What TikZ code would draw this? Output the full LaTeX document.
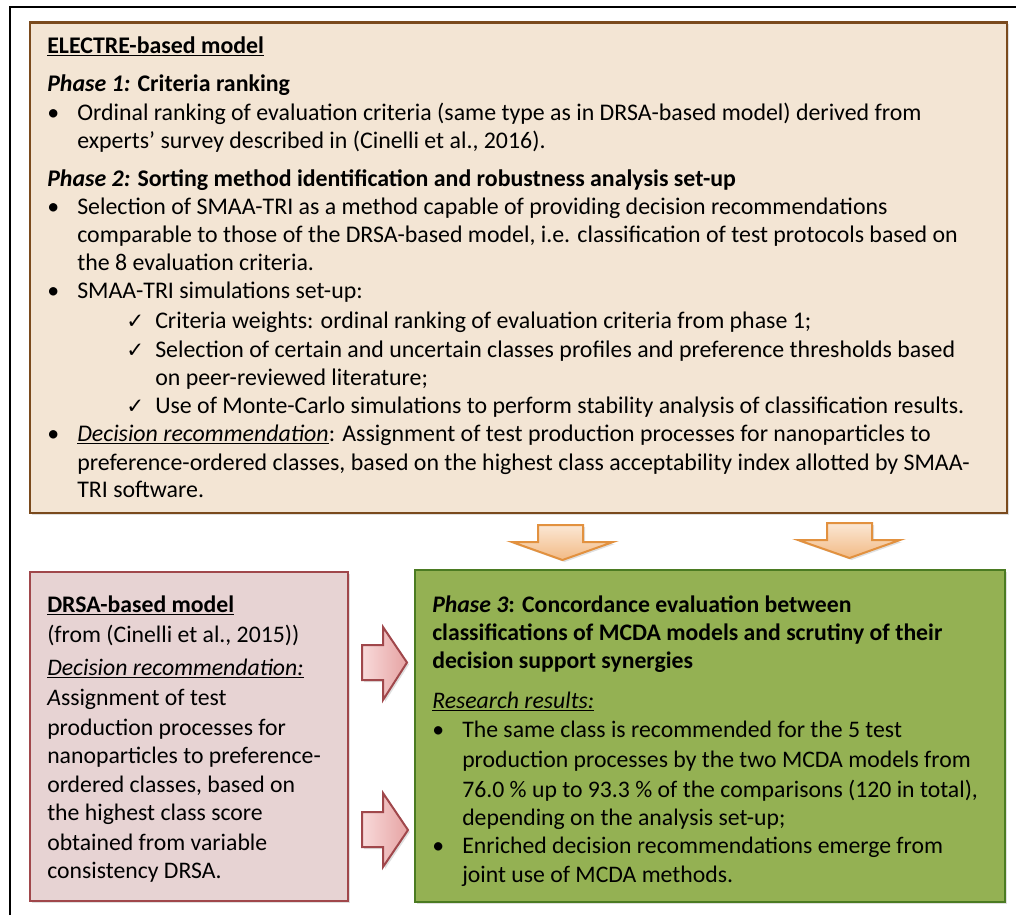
\documentclass[tikz,border=0pt]{standalone}
\usepackage{fontspec}
\setmainfont{Carlito}
\newfontfamily\symfont{DejaVu Sans}
\usetikzlibrary{shadows}
\definecolor{peach}{HTML}{F3E5D4}
\definecolor{brownb}{HTML}{7A4A1D}
\definecolor{pinkf}{HTML}{E7D3D3}
\definecolor{pinkb}{HTML}{A0474B}
\definecolor{greenf}{HTML}{94B153}
\definecolor{greenb}{HTML}{4B7B22}
\definecolor{orangeb}{HTML}{E2913F}
\definecolor{orangetop}{HTML}{FBE7D4}
\definecolor{orangebot}{HTML}{F2BA85}
\definecolor{pinktop}{HTML}{F8DADA}
\definecolor{pinkbot}{HTML}{E6A3A3}
\newcommand\chk{{\symfont\fontsize{16}{16}\selectfont ✓}}
\begin{document}
\begin{tikzpicture}[x=0.75pt,y=-0.75pt,
  txt/.style={anchor=base west, inner sep=0pt, font=\fontsize{17.9}{20}\selectfont},
  btxt/.style={anchor=base west, inner sep=0pt, font=\fontsize{17.8}{20}\selectfont},
  shad/.style={drop shadow={opacity=0.25, shadow xshift=1.5pt, shadow yshift=-1.5pt}},
  mainbox/.style={rectangle, inner sep=0pt, line width=2.2pt, shad},
  orangearrow/.style={draw=orangeb, line width=1.5pt, top color=orangetop, bottom color=orangebot, line join=miter, shad},
  pinkarrow/.style={draw=pinkb, line width=1.5pt, left color=pinktop, right color=pinkbot, line join=miter, shad}]
\useasboundingbox (0,0) rectangle (1016,915);
% outer frame
\draw[line width=1.5pt] (10,915) -- (10,7) -- (1016,7);
% boxes
\node[mainbox, draw=brownb, fill=peach, minimum width=732.75pt, minimum height=367.9pt] (top) at (518.5,267.75) {};
\node[mainbox, draw=pinkb, fill=pinkf, minimum width=238.5pt, minimum height=246.75pt] (drsa) at (189,736.5) {};
\node[mainbox, draw=greenb, fill=greenf, minimum width=442.5pt, minimum height=249pt] (phase3) at (710,736) {};
% orange arrows
\path[orangearrow] (538,525) -- (583,525) -- (583,542) -- (613,542) -- (562.5,560) -- (512,542) -- (538,542) -- cycle;
\path[orangearrow] (827,523) -- (872,523) -- (872,540) -- (900,540) -- (849.5,558) -- (798,540) -- (827,540) -- cycle;
% pink arrows
\path[pinkarrow] (362,645) -- (383,645) -- (383,627) -- (407,662.5) -- (383,700) -- (383,680) -- (362,680) -- cycle;
\path[pinkarrow] (362,812) -- (383,812) -- (383,793) -- (408,830) -- (383,867) -- (383,847) -- (362,847) -- cycle;
% top box text
\node[txt] (t1) at (47,53) {\textbf{\underline{ELECTRE-based model}}};
\node[txt] (t2) at (47,91) {\textbf{\textit{Phase 1:} Criteria ranking}};
\node[txt] (b1) at (47,120) {•};
\node[txt] (t3) at (77,120) {Ordinal ranking of evaluation criteria (same type as in DRSA-based model) derived from};
\node[txt] (t4) at (77,148) {experts’ survey described in (Cinelli et al., 2016).};
\node[txt] (t5) at (47,186) {\textbf{\textit{Phase 2:} Sorting method identification and robustness analysis set-up}};
\node[txt] (b2) at (47,214) {•};
\node[txt] (t6) at (77,214) {Selection of SMAA-TRI as a method capable of providing decision recommendations};
\node[txt] (t7) at (77,242) {comparable to those of the DRSA-based model, i.e. classification of test protocols based on};
\node[txt] (t8) at (77,270) {the 8 evaluation criteria.};
\node[txt] (b3) at (47,298) {•};
\node[txt] (t9) at (77,298) {SMAA-TRI simulations set-up:};
\node[txt] (c1) at (126,328) {\chk};
\node[txt] (t10) at (155,328) {Criteria weights: ordinal ranking of evaluation criteria from phase 1;};
\node[txt] (c2) at (126,357) {\chk};
\node[txt] (t11) at (155,357) {Selection of certain and uncertain classes profiles and preference thresholds based};
\node[txt] (t12) at (155,385) {on peer-reviewed literature;};
\node[txt] (c3) at (126,413) {\chk};
\node[txt] (t13) at (155,413) {Use of Monte-Carlo simulations to perform stability analysis of classification results.};
\node[txt] (b4) at (47,441) {•};
\node[txt] (t14) at (77,441) {\underline{\textit{Decision recommendation}}: Assignment of test production processes for nanoparticles to};
\node[txt] (t15) at (77,470) {preference-ordered classes, based on the highest class acceptability index allotted by SMAA-};
\node[txt] (t16) at (77,497) {TRI software.};
% DRSA box text
\node[btxt] (p1) at (47,612) {\textbf{\underline{DRSA-based model}}};
\node[btxt] (p2) at (47,642) {(from (Cinelli et al., 2015))};
\node[btxt] (p3) at (47,675) {\underline{\textit{Decision recommendation:}}};
\node[btxt] (p4) at (47,705) {\textit{A}ssignment of test};
\node[btxt] (p5) at (47,735) {production processes for};
\node[btxt] (p6) at (47,763) {nanoparticles to preference-};
\node[btxt] (p7) at (47,792) {ordered classes, based on};
\node[btxt] (p8) at (47,820) {the highest class score};
\node[btxt] (p9) at (47,850) {obtained from variable};
\node[btxt] (p10) at (47,878) {consistency DRSA.};
% Phase 3 box text
\node[btxt] (g1) at (432,612) {\textbf{\textit{Phase 3}: Concordance evaluation between}};
\node[btxt] (g2) at (432,640) {\textbf{classifications of MCDA models and scrutiny of their}};
\node[btxt] (g3) at (432,668) {\textbf{decision support synergies}};
\node[btxt] (g4) at (432,708) {\underline{\textit{Research results:}}};
\node[btxt] (gb1) at (432,737) {•};
\node[btxt] (g5) at (462,737) {The same class is recommended for the 5 test};
\node[btxt] (g6) at (462,767) {production processes by the two MCDA models from};
\node[btxt] (g7) at (462,797) {76.0 \% up to 93.3 \% of the comparisons (120 in total),};
\node[btxt] (g8) at (462,825) {depending on the analysis set-up;};
\node[btxt] (gb2) at (432,853) {•};
\node[btxt] (g9) at (462,853) {Enriched decision recommendations emerge from};
\node[btxt] (g10) at (462,882) {joint use of MCDA methods.};
\end{tikzpicture}
\end{document}
